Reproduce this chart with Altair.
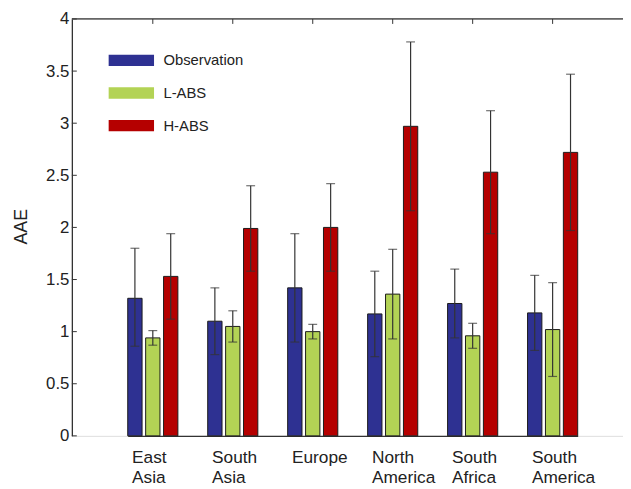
import altair as alt
import pandas as pd

regions = ["East Asia", "South Asia", "Europe", "North America", "South Africa", "South America"]
series = ["Observation", "L-ABS", "H-ABS"]
colors = ["#2E3192", "#B3D355", "#B50000"]

obs_mean = [1.32, 1.10, 1.42, 1.17, 1.27, 1.18]
obs_low = [0.86, 0.78, 0.90, 0.76, 0.94, 0.82]
obs_high = [1.80, 1.42, 1.94, 1.58, 1.60, 1.54]

labs_mean = [0.94, 1.05, 1.00, 1.36, 0.96, 1.02]
labs_low = [0.87, 0.90, 0.93, 0.93, 0.84, 0.57]
labs_high = [1.01, 1.20, 1.07, 1.79, 1.08, 1.47]

habs_mean = [1.53, 1.99, 2.00, 2.97, 2.53, 2.72]
habs_low = [1.12, 1.58, 1.58, 2.16, 1.94, 1.97]
habs_high = [1.94, 2.40, 2.42, 3.78, 3.12, 3.47]

y_ticks = [0, 0.5, 1, 1.5, 2, 2.5, 3, 3.5, 4]

rows = []
for s, m, lo, hi in [
    ("Observation", obs_mean, obs_low, obs_high),
    ("L-ABS", labs_mean, labs_low, labs_high),
    ("H-ABS", habs_mean, habs_low, habs_high),
]:
    for r, a, b, c in zip(regions, m, lo, hi):
        rows.append({"region": r, "series": s, "mean": a, "low": b, "high": c})
df = pd.DataFrame(rows)

W = 558.3
H = 422.3
FONT = "Liberation Sans"
DARK = "#333333"

# band range: first group starts 56.6px into the plot, groups 81px apart, 50.8px wide
x_scale = alt.Scale(domain=regions, range=[56.6, 512.4], paddingInner=0.373, paddingOuter=0, round=False)
x_axis = alt.Axis(
    title=None,
    orient="bottom",
    labelExpr="split(datum.label, ' ')",
    labelAngle=0,
    labelAlign="left",
    labelBaseline="top",
    labelOffset=-21,
    labelPadding=13,
    labelFontSize=17.5,
    labelLineHeight=20.7,
    labelColor="#222222",
    labelFont=FONT,
    ticks=False,
    tickSize=0,
    domainColor=DARK,
    domainWidth=1.3,
)
y_scale = alt.Scale(domain=[0, 4], nice=False, zero=True)
y_axis = alt.Axis(
    title="AAE",
    orient="left",
    values=y_ticks,
    format=".1~f",
    grid=False,
    ticks=False,
    tickSize=0,
    labelPadding=3,
    labelFontSize=17,
    labelColor="#222222",
    labelFont=FONT,
    domainColor=DARK,
    domainWidth=1.3,
    titleFontSize=18,
    titleFontWeight="normal",
    titleFont=FONT,
    titleColor="#222222",
    titleX=-51,
    titleY=210,
    titleAngle=270,
    titleBaseline="middle",
    titleAlign="center",
)

X = alt.X("region:N", sort=regions, scale=x_scale, axis=x_axis)
XO = alt.XOffset("series:N", sort=series, scale=alt.Scale(domain=series, paddingInner=0.2, paddingOuter=0, round=False))

def Y(field):
    return alt.Y(field, scale=y_scale, axis=y_axis)

base = alt.Chart(df).encode(x=X, xOffset=XO)

bars = base.mark_bar(stroke="#1a1a1a", strokeWidth=1).encode(
    y=Y("mean:Q"),
    color=alt.Color(
        "series:N",
        sort=series,
        scale=alt.Scale(domain=series, range=colors),
        legend=alt.Legend(
            title=None,
            orient="none",
            legendX=52.75,
            legendY=34.5,
            padding=0,
            symbolType="M-4,-1H4V1H-4Z",
            symbolSize=132,
            symbolStrokeWidth=0,
            labelFontSize=15,
            labelFont=FONT,
            labelColor="#222222",
            labelOffset=25,
            rowPadding=17,
        ),
    ),
)

err = base.mark_rule(color=DARK, strokeWidth=1.2).encode(y=Y("low:Q"), y2="high:Q")
cap_lo = base.mark_tick(color=DARK, thickness=1.2, size=9, orient="horizontal").encode(y=Y("low:Q"))
cap_hi = base.mark_tick(color=DARK, thickness=1.2, size=9, orient="horizontal").encode(y=Y("high:Q"))

yt = alt.Chart(pd.DataFrame({"v": y_ticks})).mark_rule(color=DARK, strokeWidth=1).encode(
    y=Y("v:Q"), x=alt.value(0), x2=alt.value(5),
)
xt = alt.Chart(pd.DataFrame({"region": regions})).mark_rule(color=DARK, strokeWidth=1).encode(
    x=X, y=alt.value(0), y2=alt.value(5),
)
top = alt.Chart(pd.DataFrame({"region": regions[:1]})).mark_rule(color=DARK, strokeWidth=1.3).encode(
    x=alt.value(0), x2=alt.value(W), y=alt.value(0),
)

chart = alt.layer(bars, err, cap_lo, cap_hi, yt, xt, top).properties(
    width=W,
    height=H,
    autosize=alt.AutoSizeParams(type="none"),
    padding={"left": 64.7, "top": 8, "right": 0, "bottom": 50},
).configure_view(strokeWidth=0).configure(font=FONT)

chart.save("out.html", embed_options={"renderer": "svg", "actions": False})
